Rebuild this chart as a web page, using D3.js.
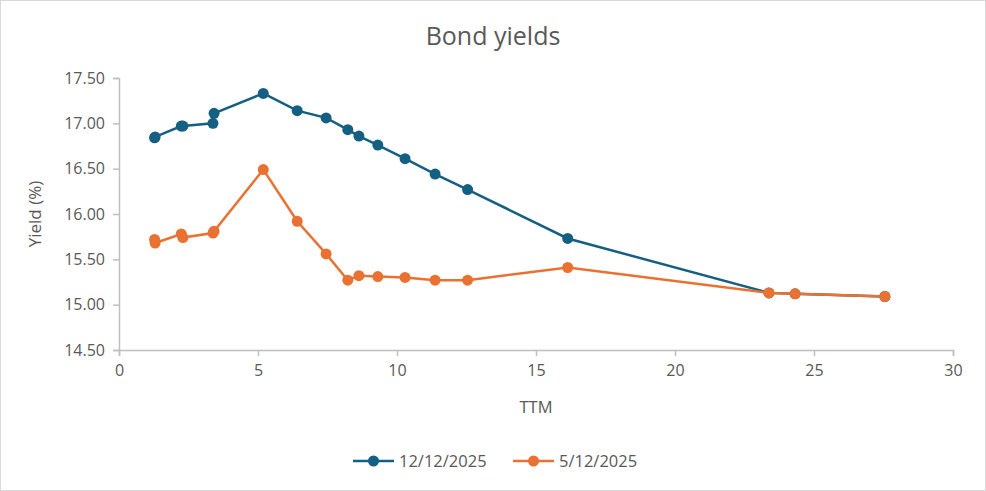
<html>
<head>
<script src="https://d3js.org/d3.v7.min.js"></script>
<style>
  body { margin: 0; background: #fff; }
  text { font-family: "Open Sans", sans-serif; fill: #595959; }
  .axis .domain, .axis line { stroke: #bfbfbf; stroke-width: 1.5; }
</style>
</head>
<body>
<svg id="chart" width="986" height="491"></svg>
<script>
// TTM (years) shared by both curves
const ttm = [1.28, 1.30, 2.24, 2.30, 3.38, 3.42, 5.19, 6.41, 7.45, 8.23, 8.63, 9.31, 10.29, 11.37, 12.54, 16.14, 23.38, 24.32, 27.55];
// yields (%)
const yieldsDec = [16.84, 16.85, 16.97, 16.97, 17.00, 17.11, 17.33, 17.14, 17.06, 16.93, 16.86, 16.76, 16.61, 16.44, 16.27, 15.73, 15.13, 15.12, 15.09];
const yieldsMay = [15.72, 15.68, 15.78, 15.74, 15.79, 15.81, 16.49, 15.92, 15.56, 15.27, 15.32, 15.31, 15.30, 15.27, 15.27, 15.41, 15.13, 15.12, 15.09];
const seriesNames = ["12/12/2025", "5/12/2025"];
const xTicks = [0, 5, 10, 15, 20, 25, 30];
const yTicks = [14.5, 15, 15.5, 16, 16.5, 17, 17.5];

const svg = d3.select("svg#chart");
const width = +svg.attr("width");
const height = +svg.attr("height");
const margin = {top: 78, right: 33, bottom: 141, left: 119};
const chartWidth = width - margin.left - margin.right;
const chartHeight = height - margin.top - margin.bottom;

// outer border
svg.append("rect")
  .attr("x", 0.5).attr("y", 0.5)
  .attr("width", width - 1).attr("height", height - 1)
  .attr("fill", "#fff").attr("stroke", "#d9d9d9");

svg.append("text")
  .attr("x", width / 2).attr("y", 45)
  .attr("text-anchor", "middle")
  .style("font-size", "25px")
  .text("Bond yields");

const xScale = d3.scaleLinear().domain([0, 30]).range([0, chartWidth]);
const yScale = d3.scaleLinear().domain([14.5, 17.5]).range([chartHeight, 0]);

const g = svg.append("g").attr("transform", `translate(${margin.left},${margin.top})`);

g.append("g")
  .attr("class", "axis")
  .call(d3.axisLeft(yScale).tickValues(yTicks).tickFormat(d3.format(".2f")).tickSize(6).tickPadding(8))
  .call(a => a.selectAll("text").style("font-size", "16px").attr("fill", "#595959"));

g.append("g")
  .attr("class", "axis")
  .attr("transform", `translate(0,${chartHeight})`)
  .call(d3.axisBottom(xScale).tickValues(xTicks).tickFormat(d3.format("d")).tickSize(6).tickPadding(9))
  .call(a => a.selectAll("text").style("font-size", "16px").attr("fill", "#595959"));

g.append("text")
  .attr("transform", `translate(-78,${chartHeight / 2}) rotate(-90)`)
  .attr("text-anchor", "middle")
  .style("font-size", "17px")
  .text("Yield (%)");

g.append("text")
  .attr("x", chartWidth / 2).attr("y", chartHeight + 63)
  .attr("text-anchor", "middle")
  .style("font-size", "16.5px")
  .text("TTM");

const colors = ["#156082", "#e97132"];
const series = [yieldsDec, yieldsMay];

const lineGen = d3.line()
  .x(d => xScale(d[0]))
  .y(d => yScale(d[1]));

series.forEach((vals, i) => {
  const pts = ttm.map((t, j) => [t, vals[j]]);
  g.append("path")
    .datum(pts)
    .attr("fill", "none")
    .attr("stroke", colors[i])
    .attr("stroke-width", 2.5)
    .attr("d", lineGen);
  g.selectAll(`circle.s${i}`)
    .data(pts)
    .join("circle")
    .attr("class", `s${i}`)
    .attr("cx", d => xScale(d[0]))
    .attr("cy", d => yScale(d[1]))
    .attr("r", 5.5)
    .attr("fill", colors[i]);
});

// legend
const legendX = [353, 513];
const legend = svg.append("g").attr("transform", "translate(0,461)");
seriesNames.forEach((name, i) => {
  const lg = legend.append("g").attr("transform", `translate(${legendX[i]},0)`);
  lg.append("line").attr("x1", 0).attr("x2", 41).attr("y1", 0).attr("y2", 0)
    .attr("stroke", colors[i]).attr("stroke-width", 2.5);
  lg.append("circle").attr("cx", 20.5).attr("cy", 0).attr("r", 5.5).attr("fill", colors[i]);
  lg.append("text").attr("x", 46).attr("y", 0).attr("dy", "0.35em")
    .style("font-size", "16.5px").text(name);
});
</script>
</body>
</html>
